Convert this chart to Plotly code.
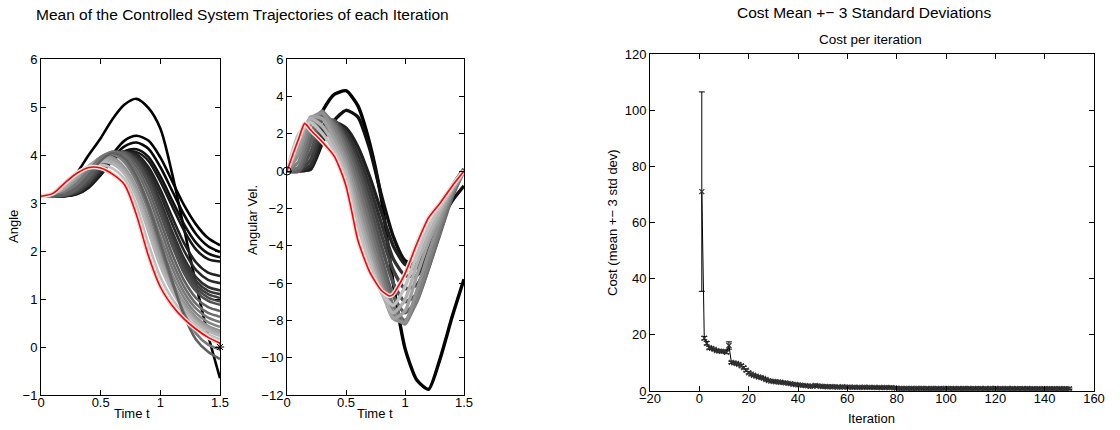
import plotly.graph_objects as go

W, H = 1120, 430
FONT = "Liberation Sans, Arial, Helvetica, sans-serif"

# ---------------- data ----------------
time_t = [0.0, 0.1, 0.2, 0.3, 0.4, 0.5, 0.6, 0.7, 0.8, 0.9, 1.0, 1.1, 1.2, 1.3, 1.4, 1.5]

# mean angle trajectory of each iteration (early = dark, late = light)
angle_colors = ["#000000", "#000000", "#080808", "#101010", "#181818",
                "#202020", "#282828", "#303030", "#383838", "#404040", "#484848",
                "#505050", "#606060", "#6c6c6c", "#787878", "#848484", "#909090",
                "#9c9c9c", "#a8a8a8", "#b4b4b4", "#c0c0c0", "#787878", "#606060"]
angle_iters = [
    [3.14, 3.16, 3.30, 3.62, 4.00, 4.35, 4.75, 5.05, 5.17, 4.98, 4.55, 3.60, 2.45, 1.30, 0.25, -0.65],
    [3.14, 3.14, 3.15, 3.22, 3.40, 3.68, 4.02, 4.30, 4.40, 4.30, 3.95, 3.45, 2.95, 2.55, 2.27, 2.12],
    [3.14, 3.14, 3.15, 3.20, 3.37, 3.64, 3.95, 4.18, 4.26, 4.13, 3.75, 3.25, 2.75, 2.35, 2.10, 1.98],
    [3.14, 3.14, 3.14, 3.19, 3.34, 3.60, 3.90, 4.08, 4.12, 3.96, 3.56, 3.05, 2.55, 2.17, 1.95, 1.87],
    [3.14, 3.14, 3.14, 3.18, 3.32, 3.58, 3.88, 4.05, 4.06, 3.88, 3.45, 2.93, 2.42, 2.03, 1.83, 1.78],
    [3.14, 3.14, 3.15, 3.20, 3.36, 3.62, 3.91, 4.06, 4.02, 3.75, 3.28, 2.70, 2.16, 1.76, 1.55, 1.48],
    [3.14, 3.14, 3.15, 3.20, 3.37, 3.64, 3.93, 4.06, 3.99, 3.68, 3.17, 2.56, 2.00, 1.60, 1.40, 1.33],
    [3.14, 3.14, 3.15, 3.21, 3.39, 3.67, 3.95, 4.06, 3.95, 3.60, 3.04, 2.40, 1.84, 1.45, 1.25, 1.18],
    [3.14, 3.14, 3.15, 3.22, 3.40, 3.70, 3.97, 4.06, 3.92, 3.55, 2.97, 2.32, 1.76, 1.37, 1.17, 1.10],
    [3.14, 3.14, 3.15, 3.23, 3.42, 3.72, 3.98, 4.06, 3.90, 3.50, 2.90, 2.25, 1.68, 1.30, 1.10, 1.02],
    [3.14, 3.14, 3.16, 3.25, 3.45, 3.75, 4.00, 4.06, 3.87, 3.45, 2.84, 2.17, 1.60, 1.23, 1.03, 0.95],
    [3.14, 3.14, 3.16, 3.26, 3.47, 3.78, 4.02, 4.06, 3.84, 3.40, 2.77, 2.10, 1.53, 1.16, 0.96, 0.88],
    [3.14, 3.14, 3.17, 3.29, 3.53, 3.84, 4.05, 4.04, 3.76, 3.28, 2.62, 1.93, 1.38, 1.02, 0.83, 0.75],
    [3.14, 3.14, 3.18, 3.33, 3.60, 3.90, 4.07, 4.00, 3.67, 3.15, 2.46, 1.78, 1.25, 0.90, 0.71, 0.63],
    [3.14, 3.15, 3.21, 3.38, 3.66, 3.95, 4.06, 3.93, 3.56, 3.00, 2.30, 1.64, 1.13, 0.80, 0.61, 0.52],
    [3.14, 3.15, 3.24, 3.44, 3.72, 3.96, 4.02, 3.84, 3.44, 2.85, 2.14, 1.50, 1.02, 0.70, 0.52, 0.42],
    [3.14, 3.16, 3.28, 3.50, 3.76, 3.95, 3.95, 3.74, 3.32, 2.68, 1.96, 1.36, 0.92, 0.62, 0.44, 0.34],
    [3.14, 3.16, 3.30, 3.53, 3.77, 3.93, 3.91, 3.70, 3.26, 2.59, 1.87, 1.29, 0.87, 0.58, 0.41, 0.31],
    [3.14, 3.17, 3.33, 3.56, 3.78, 3.90, 3.86, 3.65, 3.20, 2.50, 1.78, 1.22, 0.82, 0.54, 0.37, 0.27],
    [3.14, 3.18, 3.36, 3.58, 3.77, 3.86, 3.81, 3.60, 3.12, 2.40, 1.68, 1.15, 0.77, 0.50, 0.33, 0.23],
    [3.14, 3.19, 3.39, 3.60, 3.76, 3.80, 3.72, 3.50, 2.95, 2.15, 1.46, 1.00, 0.68, 0.43, 0.27, 0.16],
    [3.14, 3.15, 3.22, 3.40, 3.68, 3.95, 4.04, 3.88, 3.48, 2.85, 2.08, 1.33, 0.70, 0.28, 0.05, -0.05],
    [3.14, 3.14, 3.18, 3.32, 3.58, 3.88, 4.04, 3.94, 3.56, 2.95, 2.18, 1.38, 0.65, 0.15, -0.10, -0.25],
]
angle_final = [3.14, 3.20, 3.42, 3.62, 3.74, 3.73, 3.60, 3.38, 2.75, 1.90, 1.25, 0.86, 0.58, 0.37, 0.20, 0.08]

vel_colors = ["#000000", "#101010", "#202020", "#303030", "#404040",
              "#505050", "#606060", "#707070", "#808080", "#909090",
              "#a0a0a0", "#b0b0b0", "#c0c0c0"]
vel_iters = [
    [0.0, 0.0, 1.8, 3.2, 4.1, 4.3, 3.5, 1.5, -1.5, -6.0, -9.5, -11.2, -11.7, -10.0, -7.8, -5.8],
    [0.0, 0.0, 0.1, 1.5, 2.7, 3.25, 2.9, 1.2, -1.3, -3.5, -4.8, -5.0, -4.0, -2.7, -1.6, -0.8],
    [0.0, 0.0, 0.1, 1.7, 2.6, 2.3, 1.3, -0.3, -2.2, -4.0, -5.0, -5.2, -4.3, -2.6, -0.8, -0.1],
    [0.0, 0.0, 0.3, 2.1, 2.6, 2.1, 0.9, -0.8, -2.8, -4.7, -5.6, -5.6, -4.5, -2.8, -0.8, 0.1],
    [0.0, 0.0, 0.6, 2.4, 2.7, 1.9, 0.5, -1.3, -3.4, -5.3, -6.3, -6.1, -4.8, -3.0, -1.0, 0.1],
    [0.0, 0.0, 1.0, 2.7, 2.7, 1.7, 0.2, -1.8, -4.0, -6.0, -7.0, -6.6, -5.1, -3.2, -1.3, 0.1],
    [0.0, 0.0, 1.5, 2.9, 2.6, 1.5, -0.2, -2.3, -4.6, -6.7, -7.6, -6.9, -5.2, -3.3, -1.4, 0.0],
    [0.0, 0.2, 2.0, 3.1, 2.5, 1.2, -0.6, -2.8, -5.1, -7.2, -8.0, -7.0, -5.2, -3.2, -1.3, 0.0],
    [0.0, 0.5, 2.5, 3.2, 2.3, 0.9, -1.1, -3.3, -5.6, -7.6, -8.2, -6.9, -4.9, -2.9, -1.2, 0.0],
    [0.0, 0.9, 2.8, 3.1, 2.0, 0.6, -1.5, -3.8, -6.0, -7.9, -8.1, -6.4, -4.4, -2.6, -1.1, 0.0],
    [0.0, 1.3, 2.9, 2.8, 1.7, 0.3, -2.0, -4.2, -6.3, -7.9, -7.5, -5.6, -3.8, -2.3, -1.0, 0.0],
    [0.0, 1.7, 2.8, 2.4, 1.4, 0.0, -2.4, -4.6, -6.5, -7.6, -6.9, -5.0, -3.4, -2.1, -0.9, 0.0],
    [0.0, 2.0, 2.6, 2.0, 1.1, -0.3, -2.9, -4.9, -6.5, -7.2, -6.2, -4.5, -3.0, -1.9, -0.9, 0.0],
]
vel_final_t = [0.0, 0.05, 0.1, 0.15, 0.2, 0.3, 0.4, 0.45, 0.5, 0.55, 0.6, 0.7, 0.8, 0.87, 0.9,
               1.0, 1.1, 1.2, 1.3, 1.4, 1.5]
vel_final = [0.0, 0.9, 1.75, 2.55, 2.2, 1.55, 0.8, 0.1, -0.8, -2.2, -3.7, -5.4, -6.4, -6.7, -6.6,
             -5.5, -3.9, -2.5, -1.7, -0.8, 0.0]

iterations = list(range(1, 151))
cost_mean = [
    71.0, 18.8, 17.0, 15.4, 15.2, 14.8, 14.4, 14.2, 14.1, 14.1,
    13.8, 16.2, 10.2, 10.0, 9.8, 9.5, 9.0, 8.3, 7.4, 6.5,
    6.0, 5.6, 5.3, 5.0, 4.8, 4.5, 4.1, 3.7, 3.5, 3.4,
    3.3, 3.2, 3.1, 3.0, 2.9, 2.7, 2.6, 2.4, 2.3, 2.2,
    2.1, 2.0, 1.9, 1.8, 1.7, 1.7, 2.0, 1.8, 1.7, 1.6,
    1.6, 1.5, 1.5, 1.5, 1.5, 1.4, 1.4, 1.5, 1.4, 1.4,
    1.4, 1.3, 1.4, 1.3, 1.3, 1.3, 1.4, 1.3, 1.3, 1.3,
    1.3, 1.2, 1.3, 1.2, 1.2, 1.3, 1.2, 1.2, 1.1, 1.0,
    0.9, 0.9, 0.9, 0.95, 0.9, 0.9, 0.9, 0.9, 0.95, 0.9,
    0.9, 0.9, 0.85, 0.9, 0.9, 0.9, 0.85, 0.9, 0.9, 0.95,
    0.9, 0.9, 0.85, 0.9, 0.9, 0.85, 0.9, 0.9, 0.9, 0.85,
    0.9, 0.85, 0.9, 0.9, 0.85, 0.9, 0.85, 0.9, 0.9, 0.95,
    0.85, 0.9, 0.85, 0.85, 0.9, 0.85, 0.9, 0.85, 0.85, 0.9,
    0.85, 0.85, 0.9, 0.85, 0.85, 0.8, 0.85, 0.85, 0.8, 0.85,
    0.85, 0.8, 0.85, 0.8, 0.8, 0.85, 0.8, 0.8, 0.8, 0.8,
]
cost_err = [
    35.5, 0.6, 0.6, 0.5, 0.4, 0.4, 0.4, 0.4, 0.4, 0.4,
    0.5, 1.3, 0.4, 0.4, 0.4, 0.4, 0.4, 0.4, 0.4, 0.4,
    0.4, 0.4, 0.4, 0.4, 0.4, 0.3, 0.3, 0.3, 0.3, 0.3,
    0.3, 0.3, 0.3, 0.3, 0.3, 0.3, 0.3, 0.3, 0.3, 0.3,
    0.3, 0.3, 0.3, 0.3, 0.3, 0.3, 0.4, 0.3, 0.3, 0.3,
    0.3, 0.3, 0.3, 0.3, 0.3, 0.3, 0.3, 0.3, 0.3, 0.3,
    0.3, 0.3, 0.3, 0.3, 0.3, 0.3, 0.3, 0.3, 0.3, 0.3,
    0.3, 0.3, 0.3, 0.3, 0.3, 0.3, 0.3, 0.3, 0.3, 0.3,
    0.3, 0.3, 0.3, 0.3, 0.3, 0.3, 0.3, 0.3, 0.3, 0.3,
    0.3, 0.3, 0.3, 0.3, 0.3, 0.3, 0.3, 0.3, 0.3, 0.3,
    0.3, 0.3, 0.3, 0.3, 0.3, 0.3, 0.3, 0.3, 0.3, 0.3,
    0.3, 0.3, 0.3, 0.3, 0.3, 0.3, 0.3, 0.3, 0.3, 0.3,
    0.3, 0.3, 0.3, 0.3, 0.3, 0.3, 0.3, 0.3, 0.3, 0.3,
    0.3, 0.3, 0.3, 0.3, 0.3, 0.3, 0.3, 0.3, 0.3, 0.3,
    0.3, 0.3, 0.3, 0.3, 0.3, 0.3, 0.3, 0.3, 0.3, 0.3,
]

# ---------------- figure ----------------
fig = go.Figure()

for col, traj in zip(angle_colors, angle_iters):
    fig.add_trace(go.Scatter(x=time_t, y=traj, mode="lines", xaxis="x", yaxis="y",
                             line=dict(color=col, width=2.6, shape="spline", smoothing=0.8),
                             showlegend=False, hoverinfo="skip"))
fig.add_trace(go.Scatter(x=time_t, y=angle_final, mode="lines", xaxis="x", yaxis="y",
                         line=dict(color="#e2e2e2", width=4.5, shape="spline", smoothing=0.8),
                         showlegend=False, hoverinfo="skip"))
fig.add_trace(go.Scatter(x=time_t, y=angle_final, mode="lines", xaxis="x", yaxis="y",
                         line=dict(color="#ff0000", width=1.6, shape="spline", smoothing=0.8),
                         showlegend=False, hoverinfo="skip"))
fig.add_trace(go.Scatter(x=[time_t[-1]], y=[0.0], mode="markers", xaxis="x", yaxis="y",
                         marker=dict(symbol="asterisk-open", size=7, color="#000000",
                                     line=dict(width=1, color="#000000")),
                         cliponaxis=False, showlegend=False, hoverinfo="skip"))

for col, traj in zip(vel_colors, vel_iters):
    fig.add_trace(go.Scatter(x=time_t, y=traj, mode="lines", xaxis="x2", yaxis="y2",
                             line=dict(color=col, width=3.4, shape="spline", smoothing=0.6),
                             showlegend=False, hoverinfo="skip"))
fig.add_trace(go.Scatter(x=vel_final_t, y=vel_final, mode="lines", xaxis="x2", yaxis="y2",
                         line=dict(color="#e2e2e2", width=4.5, shape="spline", smoothing=0.6),
                         showlegend=False, hoverinfo="skip"))
fig.add_trace(go.Scatter(x=vel_final_t, y=vel_final, mode="lines", xaxis="x2", yaxis="y2",
                         line=dict(color="#ff0000", width=1.6, shape="spline", smoothing=0.6),
                         showlegend=False, hoverinfo="skip"))
fig.add_trace(go.Scatter(x=[0.0], y=[0.0], mode="markers", xaxis="x2", yaxis="y2",
                         marker=dict(symbol="circle-open", size=8, color="#000000",
                                     line=dict(width=1, color="#000000")),
                         cliponaxis=False, showlegend=False, hoverinfo="skip"))

fig.add_trace(go.Scatter(x=iterations, y=cost_mean, mode="lines+markers", xaxis="x3", yaxis="y3",
                         line=dict(color="#000000", width=1),
                         marker=dict(symbol="x-thin-open", size=5, color="#333333",
                                     line=dict(width=1.2, color="#333333")),
                         error_y=dict(type="data", array=cost_err, visible=True,
                                      color="#000000", thickness=1, width=3),
                         showlegend=False, hoverinfo="skip"))


def px_x(p):
    return p / W


def px_y(p):
    return 1 - p / H


axis_common = dict(showline=True, linecolor="#000000", linewidth=1, mirror="ticks",
                   ticks="inside", ticklen=5, tickcolor="#000000", showgrid=False,
                   zeroline=False, automargin=False,
                   tickfont=dict(family=FONT, size=13, color="#000000"))
xaxis_extra = dict(ticklabelstandoff=-5)

fig.update_layout(
    template="none",
    width=W, height=H, margin=dict(l=0, r=0, t=0, b=0, pad=0), autosize=False,
    paper_bgcolor="#ffffff", plot_bgcolor="#ffffff",
    font=dict(family=FONT, size=13, color="#000000"),
    xaxis=dict(domain=[px_x(41), px_x(220)], range=[0, 1.5], tickvals=[0, 0.5, 1, 1.5],
               anchor="y", **axis_common, **xaxis_extra),
    yaxis=dict(domain=[px_y(395), px_y(59)], range=[-1, 6], dtick=1, anchor="x", **axis_common),
    xaxis2=dict(domain=[px_x(287), px_x(464)], range=[0, 1.5], tickvals=[0, 0.5, 1, 1.5],
                anchor="y2", **axis_common, **xaxis_extra),
    yaxis2=dict(domain=[px_y(395), px_y(59)], range=[-12, 6], dtick=2, anchor="x2", **axis_common),
    xaxis3=dict(domain=[px_x(650), px_x(1094)], range=[-20, 160], dtick=20, anchor="y3",
                **axis_common, **xaxis_extra),
    yaxis3=dict(domain=[px_y(391), px_y(54)], range=[0, 120], dtick=20, anchor="x3", **axis_common),
)

ann = [
    dict(text="Mean of the Controlled System Trajectories of each Iteration", x=px_x(34), y=px_y(15),
         xanchor="left", yanchor="middle", font=dict(size=15.5)),
    dict(text="Angle", x=px_x(13), y=px_y(227), textangle=-90, xanchor="center", yanchor="middle",
         font=dict(size=13)),
    dict(text="Time t", x=px_x(132), y=px_y(413), xanchor="center", yanchor="middle",
         font=dict(size=13)),
    dict(text="Angular Vel.", x=px_x(252), y=px_y(220), textangle=-90, xanchor="center",
         yanchor="middle", font=dict(size=13)),
    dict(text="Time t", x=px_x(375), y=px_y(413), xanchor="center", yanchor="middle",
         font=dict(size=13)),
    dict(text="Cost Mean +\u2212 3 Standard Deviations", x=px_x(864), y=px_y(13),
         xanchor="center", yanchor="middle", font=dict(size=15.5)),
    dict(text="Cost per iteration", x=px_x(870), y=px_y(39), xanchor="center", yanchor="middle",
         font=dict(size=13.5)),
    dict(text="Cost (mean +\u2212 3 std dev)", x=px_x(612), y=px_y(222), textangle=-90,
         xanchor="center", yanchor="middle", font=dict(size=13)),
    dict(text="Iteration", x=px_x(871), y=px_y(418), xanchor="center", yanchor="middle",
         font=dict(size=13)),
]
for a in ann:
    a.update(xref="paper", yref="paper", showarrow=False)
    a["font"] = dict(family=FONT, color="#000000", **a["font"])
fig.update_layout(annotations=ann)

fig.write_html("out.html")
